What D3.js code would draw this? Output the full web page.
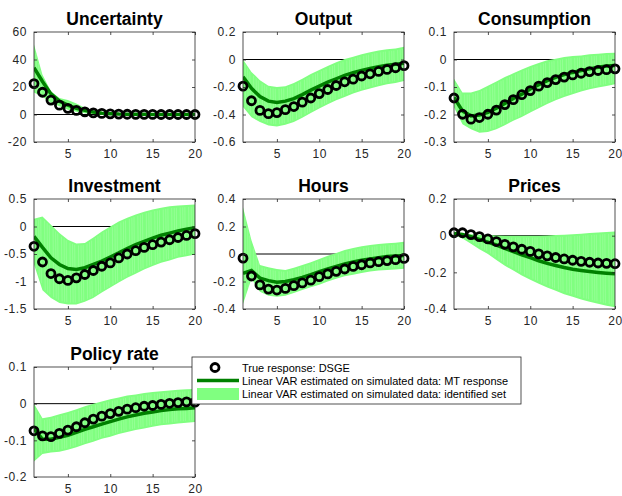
<!DOCTYPE html>
<html>
<head>
<meta charset="utf-8">
<script src="https://cdn.jsdelivr.net/npm/d3@7"></script>
<style>
  body { margin: 0; background: #fff; }
  text { font-family: "Liberation Sans", Arial, sans-serif; }
</style>
</head>
<body>
<svg id="fig" width="622" height="496"></svg>
<script>
// Impulse responses to an uncertainty shock, horizons 1..20
const horizon = d3.range(1, 21);
const xTicks = [5, 10, 15, 20];

const titles = ["Uncertainty", "Output", "Consumption", "Investment", "Hours", "Prices", "Policy rate"];

// True response (DSGE)
const trueUncertainty = [22.5, 16.2, 10.5, 6.8, 4.5, 3.0, 1.9, 1.2, 0.8, 0.5, 0.3, 0.2, 0.1, 0.1, 0.05, 0, 0, 0, 0, 0];
const trueOutput = [-0.194, -0.30, -0.37, -0.394, -0.386, -0.365, -0.342, -0.31, -0.28, -0.248, -0.218, -0.189, -0.162, -0.143, -0.12, -0.104, -0.087, -0.072, -0.06, -0.045];
const trueConsumption = [-0.14, -0.199, -0.217, -0.211, -0.199, -0.184, -0.164, -0.146, -0.128, -0.113, -0.097, -0.084, -0.073, -0.064, -0.056, -0.05, -0.044, -0.04, -0.037, -0.034];
const trueInvestment = [-0.36, -0.645, -0.855, -0.95, -0.98, -0.934, -0.873, -0.8, -0.723, -0.663, -0.572, -0.5, -0.44, -0.38, -0.331, -0.283, -0.241, -0.2, -0.163, -0.13];
const trueHours = [-0.03, -0.16, -0.225, -0.255, -0.262, -0.25, -0.23, -0.21, -0.19, -0.165, -0.145, -0.126, -0.109, -0.09, -0.078, -0.065, -0.056, -0.048, -0.041, -0.032];
const truePrices = [0.016, 0.016, 0.006, -0.005, -0.018, -0.032, -0.047, -0.061, -0.074, -0.086, -0.099, -0.11, -0.119, -0.127, -0.134, -0.14, -0.145, -0.149, -0.151, -0.153];
const truePolicy = [-0.074, -0.088, -0.09, -0.081, -0.072, -0.063, -0.052, -0.042, -0.034, -0.027, -0.021, -0.015, -0.011, -0.007, -0.005, -0.002, 0.001, 0.003, 0.005, 0.004];

// Linear VAR: MT response
const mtUncertainty = [34, 24, 15, 9.7, 6.8, 4.5, 3.0, 1.8, 1.0, 0.6, 0.3, 0.2, 0.1, 0.1, 0, 0, 0, 0, 0, 0];
const mtOutput = [-0.125, -0.21, -0.27, -0.303, -0.313, -0.303, -0.284, -0.255, -0.223, -0.194, -0.165, -0.14, -0.116, -0.096, -0.079, -0.065, -0.052, -0.042, -0.035, -0.028];
const mtConsumption = [-0.138, -0.187, -0.205, -0.202, -0.192, -0.177, -0.16, -0.142, -0.126, -0.107, -0.092, -0.077, -0.065, -0.055, -0.047, -0.04, -0.034, -0.028, -0.024, -0.022];
const mtInvestment = [-0.18, -0.38, -0.57, -0.69, -0.765, -0.78, -0.75, -0.69, -0.63, -0.555, -0.48, -0.4, -0.33, -0.27, -0.21, -0.16, -0.12, -0.08, -0.05, -0.02];
const mtHours = [-0.14, -0.12, -0.175, -0.194, -0.206, -0.2, -0.187, -0.17, -0.15, -0.128, -0.109, -0.09, -0.073, -0.058, -0.046, -0.036, -0.027, -0.019, -0.015, -0.01];
const mtPrices = [0.012, 0.006, -0.006, -0.02, -0.035, -0.051, -0.069, -0.087, -0.104, -0.12, -0.137, -0.151, -0.163, -0.174, -0.183, -0.19, -0.196, -0.201, -0.205, -0.208];
const mtPolicy = [-0.068, -0.097, -0.097, -0.092, -0.086, -0.078, -0.07, -0.063, -0.056, -0.049, -0.042, -0.036, -0.031, -0.026, -0.023, -0.019, -0.016, -0.014, -0.013, -0.011];

// Linear VAR: identified set, upper and lower bounds
const hiUncertainty = [51, 29, 17, 12, 10.5, 8, 5, 3, 2, 1, 0.6, 0.4, 0.3, 0.2, 0.1, 0.1, 0.1, 0, 0, 0];
const loUncertainty = [16, 13, 8.5, 6, 3.5, 2, 1, 0.3, 0, -0.2, -0.3, -0.3, -0.3, -0.2, -0.2, -0.1, -0.1, -0.1, -0.1, -0.1];
const hiOutput = [0, -0.09, -0.15, -0.19, -0.2, -0.194, -0.17, -0.14, -0.106, -0.077, -0.047, -0.02, 0.003, 0.02, 0.038, 0.052, 0.065, 0.074, 0.08, 0.093];
const loOutput = [-0.345, -0.42, -0.455, -0.48, -0.487, -0.474, -0.455, -0.423, -0.389, -0.357, -0.325, -0.296, -0.272, -0.248, -0.228, -0.211, -0.194, -0.18, -0.17, -0.157];
const hiConsumption = [-0.07, -0.12, -0.12, -0.111, -0.095, -0.08, -0.064, -0.05, -0.036, -0.024, -0.013, -0.003, 0.003, 0.009, 0.013, 0.015, 0.019, 0.021, 0.024, 0.025];
const loConsumption = [-0.174, -0.235, -0.254, -0.266, -0.264, -0.254, -0.239, -0.223, -0.209, -0.193, -0.177, -0.162, -0.148, -0.136, -0.126, -0.116, -0.108, -0.102, -0.096, -0.09];
const hiInvestment = [0.14, 0.18, 0.03, -0.12, -0.24, -0.31, -0.3, -0.2, -0.09, 0, 0.09, 0.16, 0.22, 0.27, 0.31, 0.34, 0.37, 0.38, 0.39, 0.4];
const loInvestment = [-0.69, -1.16, -1.3, -1.39, -1.42, -1.42, -1.37, -1.3, -1.2, -1.11, -1.02, -0.93, -0.86, -0.78, -0.72, -0.66, -0.62, -0.57, -0.54, -0.51];
const hiHours = [0.34, 0.1, -0.08, -0.097, -0.109, -0.116, -0.1, -0.08, -0.06, -0.036, -0.012, 0.007, 0.03, 0.044, 0.056, 0.065, 0.073, 0.078, 0.082, 0.09];
const loHours = [-0.364, -0.18, -0.274, -0.303, -0.31, -0.303, -0.284, -0.262, -0.242, -0.223, -0.2, -0.18, -0.162, -0.15, -0.138, -0.128, -0.12, -0.116, -0.112, -0.107];
const hiPrices = [0.012, 0.01, 0.008, 0.005, 0.003, 0.001, 0, 0, 0, 0, 0, 0.001, 0.003, 0.005, 0.008, 0.011, 0.014, 0.017, 0.02, 0.023];
const loPrices = [0.003, -0.015, -0.044, -0.074, -0.1, -0.133, -0.164, -0.19, -0.217, -0.24, -0.262, -0.283, -0.301, -0.319, -0.333, -0.348, -0.36, -0.371, -0.382, -0.39];
const hiPolicy = [0, -0.04, -0.036, -0.029, -0.023, -0.015, -0.007, 0, 0.006, 0.012, 0.017, 0.022, 0.025, 0.029, 0.032, 0.034, 0.036, 0.038, 0.039, 0.04];
const loPolicy = [-0.158, -0.137, -0.133, -0.131, -0.126, -0.119, -0.111, -0.104, -0.096, -0.09, -0.083, -0.077, -0.072, -0.068, -0.063, -0.059, -0.057, -0.054, -0.052, -0.05];

// y tick labels per panel
const yTicksUncertainty = [-20, 0, 20, 40, 60];
const yTicksOutput = [-0.6, -0.4, -0.2, 0, 0.2];
const yTicksConsumption = [-0.3, -0.2, -0.1, 0, 0.1];
const yTicksInvestment = [-1.5, -1, -0.5, 0, 0.5];
const yTicksHours = [-0.4, -0.2, 0, 0.2, 0.4];
const yTicksPrices = [-0.4, -0.2, 0, 0.2];
const yTicksPolicy = [-0.2, -0.1, 0, 0.1];

const legendLabels = [
  "True response: DSGE",
  "Linear VAR estimated on simulated data: MT response",
  "Linear VAR estimated on simulated data: identified set"
];

const panels = [
  { title: titles[0], truth: trueUncertainty, mt: mtUncertainty, hi: hiUncertainty, lo: loUncertainty, ticks: yTicksUncertainty },
  { title: titles[1], truth: trueOutput, mt: mtOutput, hi: hiOutput, lo: loOutput, ticks: yTicksOutput },
  { title: titles[2], truth: trueConsumption, mt: mtConsumption, hi: hiConsumption, lo: loConsumption, ticks: yTicksConsumption },
  { title: titles[3], truth: trueInvestment, mt: mtInvestment, hi: hiInvestment, lo: loInvestment, ticks: yTicksInvestment },
  { title: titles[4], truth: trueHours, mt: mtHours, hi: hiHours, lo: loHours, ticks: yTicksHours },
  { title: titles[5], truth: truePrices, mt: mtPrices, hi: hiPrices, lo: loPrices, ticks: yTicksPrices },
  { title: titles[6], truth: truePolicy, mt: mtPolicy, hi: hiPolicy, lo: loPolicy, ticks: yTicksPolicy }
];

const colLeft = [34, 243, 454];
const rowTop = [32, 199, 367];
const axW = 161, axH = 110;

const BAND = "#80ff80", LINE = "#008000", AXIS = "#262626";

const svg = d3.select("#fig");
svg.append("rect").attr("width", 622).attr("height", 496).attr("fill", "#fff");

const defs = svg.append("defs");

panels.forEach((p, i) => {
  const left = colLeft[i % 3], top = rowTop[Math.floor(i / 3)];
  const x = d3.scaleLinear().domain([1, 20]).range([0, axW]);
  const y = d3.scaleLinear().domain(d3.extent(p.ticks)).range([axH, 0]);

  const g = svg.append("g").attr("transform", `translate(${left},${top})`);
  defs.append("clipPath").attr("id", "clip" + i)
    .append("rect").attr("width", axW).attr("height", axH);

  const plot = g.append("g").attr("clip-path", `url(#clip${i})`);

  // zero reference line
  plot.append("line")
    .attr("x1", 0).attr("x2", axW).attr("y1", y(0)).attr("y2", y(0))
    .attr("stroke", "#000").attr("stroke-width", 1);

  // identified set band
  const rows = horizon.map((h, k) => ({ h, lo: p.lo[k], hi: p.hi[k] }));
  plot.append("path")
    .attr("d", d3.area().x(d => x(d.h)).y0(d => y(d.lo)).y1(d => y(d.hi))(rows))
    .attr("fill", BAND);

  // faint seams between the stacked draws of the set
  const seams = [];
  for (let k = 0; k < rows.length - 1; k++) {
    [0.25, 0.55, 0.8].forEach(f => {
      const a = rows[k], b = rows[k + 1];
      const hx = a.h + f * (b.h - a.h);
      seams.push({
        x: x(hx),
        y1: y(a.hi + f * (b.hi - a.hi)) + 2,
        y2: y(a.lo + f * (b.lo - a.lo)) - 2
      });
    });
  }
  plot.selectAll("line.seam").data(seams).join("line")
    .attr("class", "seam")
    .attr("x1", d => d.x).attr("x2", d => d.x + 0.6)
    .attr("y1", d => d.y1).attr("y2", d => d.y2)
    .attr("stroke", "#fff").attr("stroke-opacity", 0.28).attr("stroke-width", 0.6);

  // MT response
  plot.append("path")
    .attr("d", d3.line().x((d, k) => x(horizon[k])).y(d => y(d))(p.mt))
    .attr("fill", "none").attr("stroke", LINE).attr("stroke-width", 3.5);

  // true DSGE response
  g.selectAll("circle.truth").data(p.truth).join("circle")
    .attr("class", "truth")
    .attr("cx", (d, k) => x(horizon[k])).attr("cy", d => y(d))
    .attr("r", 4).attr("fill", "none").attr("stroke", "#000").attr("stroke-width", 2.8);

  // axes: inward ticks on all four sides, box outline
  const xb = d3.axisBottom(x).tickValues(xTicks).tickSize(-3).tickPadding(7).tickFormat(d3.format("d"));
  const xt = d3.axisTop(x).tickValues(xTicks).tickSize(-3).tickFormat("");
  const yl = d3.axisLeft(y).tickValues(p.ticks).tickSize(-3).tickPadding(7).tickFormat(d => d3.format("")(d).replace("−", "-"));
  const yr = d3.axisRight(y).tickValues(p.ticks).tickSize(-3).tickFormat("");

  const styleAxis = sel => {
    sel.select(".domain").remove();
    sel.selectAll("line").attr("stroke", AXIS).attr("stroke-width", 0.8);
    sel.selectAll("text").attr("fill", AXIS).attr("font-size", 12)
      .style("letter-spacing", "0.6px");
  };
  g.append("g").attr("transform", `translate(0,${axH})`).call(xb).call(styleAxis);
  g.append("g").call(xt).call(styleAxis);
  g.append("g").call(yl).call(styleAxis);
  g.append("g").attr("transform", `translate(${axW},0)`).call(yr).call(styleAxis);

  g.append("rect").attr("width", axW).attr("height", axH)
    .attr("fill", "none").attr("stroke", AXIS).attr("stroke-width", 0.8);

  g.append("text")
    .attr("x", axW / 2).attr("y", -7)
    .attr("text-anchor", "middle")
    .attr("font-size", 17.5).attr("font-weight", "bold").attr("fill", "#000")
    .text(p.title);
});

// legend
const lg = svg.append("g").attr("transform", "translate(192,357)");
lg.append("rect").attr("width", 329).attr("height", 47)
  .attr("fill", "#fff").attr("stroke", AXIS).attr("stroke-width", 0.8);
lg.append("circle").attr("cx", 23).attr("cy", 10.5).attr("r", 4)
  .attr("fill", "none").attr("stroke", "#000").attr("stroke-width", 2.8);
lg.append("line").attr("x1", 5).attr("x2", 47).attr("y1", 23.5).attr("y2", 23.5)
  .attr("stroke", LINE).attr("stroke-width", 3.5);
lg.append("rect").attr("x", 5).attr("y", 31).attr("width", 42).attr("height", 12)
  .attr("fill", BAND);
lg.selectAll("text.lab").data(legendLabels).join("text")
  .attr("class", "lab")
  .attr("x", 50).attr("y", (d, k) => 15 + k * 13)
  .attr("font-size", 11).attr("fill", "#000")
  .text(d => d);
</script>
</body>
</html>
